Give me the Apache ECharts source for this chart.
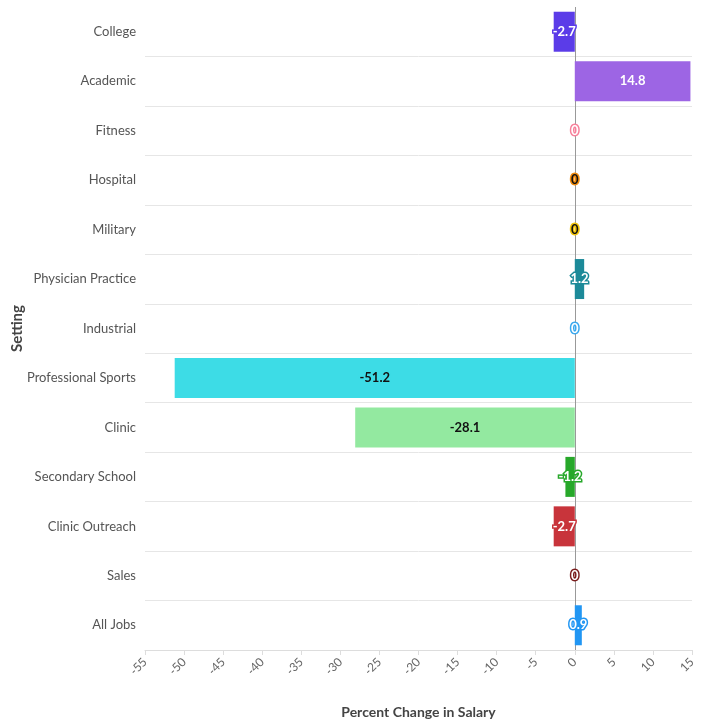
<!DOCTYPE html>
<html>
<head>
<meta charset="utf-8">
<script src="https://cdn.jsdelivr.net/npm/echarts@6/dist/echarts.min.js"></script>
<style>
html,body{margin:0;padding:0;background:#fff;}
#chart{width:714px;height:722px;}
</style>
</head>
<body>
<div id="chart"></div>
<script>
const categories = ["College","Academic","Fitness","Hospital","Military","Physician Practice","Industrial","Professional Sports","Clinic","Secondary School","Clinic Outreach","Sales","All Jobs"];
const values = [-2.7, 14.8, 0, 0, 0, 1.2, 0, -51.2, -28.1, -1.2, -2.7, 0, 0.9];
const barColors = ["#5B3CE8","#9D65E4","#F7819B","#F08A0C","#F2C40A","#1C8A99","#3AA8EE","#3DDCE6","#93E9A0","#27A82A","#C8343B","#7B1D1D","#2196F3"];
const labelColors = ["#fff","#fff","#fff","#111","#111","#fff","#fff","#111","#111","#fff","#fff","#fff","#fff"];
const xTicks = {min: -55, max: 15, interval: 5};

const chart = echarts.init(document.getElementById('chart'));
const FONT = 'Lato';
chart.setOption({
  animation: false,
  grid: {left: 145, right: 22, top: 7, bottom: 72, containLabel: false, outerBoundsMode: 'none'},
  xAxis: {
    type: 'value', min: xTicks.min, max: xTicks.max, interval: xTicks.interval,
    name: 'Percent Change in Salary', nameLocation: 'middle', nameGap: 55, nameMoveOverlap: false,
    nameTextStyle: {fontFamily: FONT, fontWeight: 'bold', fontSize: 14, color: '#444'},
    axisLine: {show: true, lineStyle: {color: '#ddd'}},
    axisTick: {show: true, length: 5, lineStyle: {color: '#ddd'}},
    axisLabel: {rotate: 45, color: '#666', fontFamily: FONT, fontSize: 12, margin: 10},
    splitLine: {show: false}
  },
  yAxis: {
    type: 'category', data: categories, inverse: true,
    name: 'Setting', nameLocation: 'middle', nameGap: 120, nameRotate: 90, nameMoveOverlap: false,
    nameTextStyle: {fontFamily: FONT, fontWeight: 'bold', fontSize: 15, color: '#444'},
    axisLine: {show: false, onZero: false},
    axisTick: {show: false},
    axisLabel: {color: '#555', fontFamily: FONT, fontSize: 13, margin: 9},
    splitLine: {show: true, showMinLine: false, lineStyle: {color: '#e6e6e6'}}
  },
  series: [{
    type: 'bar',
    barWidth: 40,
    data: values.map((v, i) => ({
      value: v,
      itemStyle: {color: barColors[i]},
      label: {color: labelColors[i], textBorderColor: barColors[i]}
    })),
    label: {
      show: true, position: 'inside',
      fontFamily: FONT, fontWeight: 'bold', fontSize: 13,
      textBorderWidth: 3,
      formatter: p => String(p.value)
    },
    markLine: {
      silent: true, symbol: 'none', label: {show: false},
      lineStyle: {color: '#999', width: 1, type: 'solid'},
      z: 1,
      data: [{xAxis: 0}]
    }
  }]
});
</script>
</body>
</html>
